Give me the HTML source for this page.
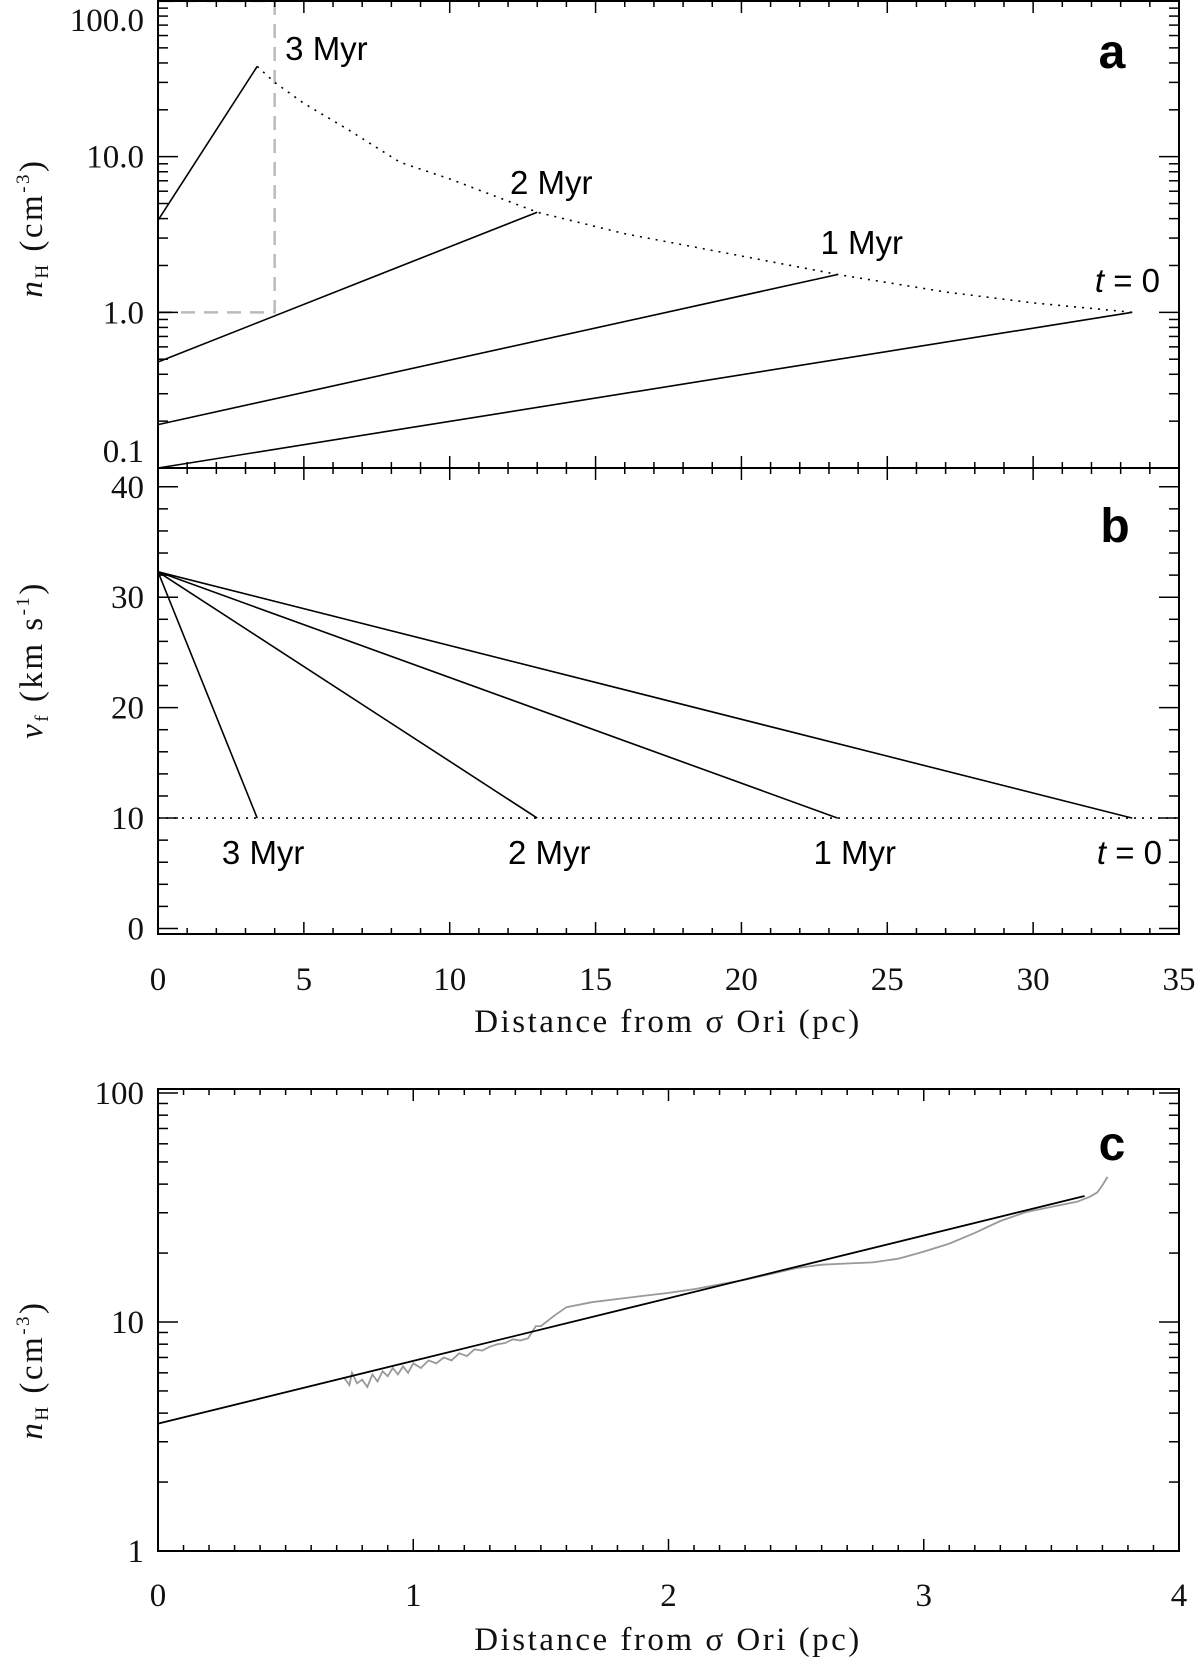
<!DOCTYPE html>
<html><head><meta charset="utf-8">
<style>
html,body{margin:0;padding:0;background:#fff;}
svg{display:block;}
.tk{font-family:"Liberation Serif",serif;font-size:33px;fill:#111;}
.ti{font-family:"Liberation Serif",serif;font-size:33px;fill:#111;letter-spacing:2.5px;}
.lb{font-family:"Liberation Sans",sans-serif;font-size:33px;fill:#000;}
.pl{font-family:"Liberation Sans",sans-serif;font-size:48px;font-weight:bold;fill:#000;}
</style></head>
<body>
<svg id="fig" width="1200" height="1670" viewBox="0 0 1200 1670" xmlns="http://www.w3.org/2000/svg"></svg>
<script>
// Panel a: density profiles (log-linear lines) at times
const aTimes = ["t = 0","1 Myr","2 Myr","3 Myr"];
const aStartN = [0.1, 0.19, 0.48, 3.9];
const aEndX = [33.4, 23.3, 13.0, 3.4];
const aEndN = [1.0, 1.75, 4.4, 38];
const envX = [3.4, 4, 5, 6.5, 8.3, 10, 13, 16, 20, 23.3, 27, 30, 33.4];
const envN = [38, 30, 22, 15, 9.2, 7.2, 4.4, 3.2, 2.3, 1.75, 1.35, 1.15, 1.0];
const aYTicks = ["0.1","1.0","10.0","100.0"];
// Panel b: front velocity
const bStartV = [32.3, 32.3, 32.3, 32.3];
const bEndX = [33.4, 23.3, 13.0, 3.4];
const bEndV = [10, 10, 10, 10];
const bYTicks = ["0","10","20","30","40"];
const abXTicks = ["0","5","10","15","20","25","30","35"];
// Panel c: observed density and fit
const cFitX = [0, 3.63];
const cFitN = [3.6, 35.5];
const cObsX = [0.73,0.75,0.76,0.78,0.80,0.82,0.84,0.86,0.88,0.90,0.92,0.94,0.96,0.98,1.0,1.03,1.06,1.09,1.12,1.15,1.18,1.21,1.24,1.27,1.30,1.33,1.36,1.39,1.42,1.45,1.48,1.50,1.55,1.60,1.70,1.80,1.90,2.0,2.1,2.2,2.3,2.4,2.5,2.6,2.7,2.8,2.9,3.0,3.1,3.2,3.3,3.4,3.5,3.6,3.65,3.68,3.70,3.72];
const cObsN = [5.7,5.3,6.0,5.4,5.6,5.2,5.9,5.5,6.1,5.8,6.3,5.9,6.4,6.0,6.6,6.3,6.8,6.6,7.0,6.8,7.3,7.1,7.6,7.5,7.8,8.0,8.1,8.4,8.3,8.5,9.6,9.6,10.6,11.6,12.2,12.6,13.0,13.4,13.9,14.6,15.3,16.2,17.2,17.8,18.0,18.2,18.9,20.3,22.0,24.5,27.6,30.2,31.8,33.5,35.2,36.8,39.5,43];
const cYTicks = ["1","10","100"];
const cXTicks = ["0","1","2","3","4"];

const NS="http://www.w3.org/2000/svg";
const svg=document.getElementById('fig');
function mk(tag,attrs,parent){const e=document.createElementNS(NS,tag);for(const k in attrs)e.setAttribute(k,attrs[k]);(parent||svg).appendChild(e);return e;}
function line(x1,y1,x2,y2,sw,parent,name){const e=mk('line',{x1,y1,x2,y2,stroke:'#000','stroke-width':sw||2},parent);

return e;}
function text(x,y,s,cls,anchor,name,parent){const e=mk('text',{x,y,'class':cls,'text-anchor':anchor||'middle'},parent);e.textContent=s;

return e;}

const L=158,R=1179;
const xa=v=>L+(v/35)*(R-L);
const aTop=1,aBot=468;
const ya=v=>aBot-(Math.log10(v)+1)/3*(aBot-aTop);
const bTop=468,bBot=934;
const yb=v=>bBot-(v+0.5)/42.2*(bBot-bTop);
const cTop=1089,cBot=1551;
const cDec=229;
const xc=v=>L+(v/4)*(R-L);
const yc=v=>cBot-Math.log10(v)*cDec;

function frame(t,b,name){const r=mk('rect',{x:L,y:t,width:R-L,height:b-t,fill:'none',stroke:'#000','stroke-width':2});

}
function xticks(t,b,fx,max,minor,major,labels,ly){
  const g=mk('g',{});
  
  
  const n=Math.round(max/minor);
  for(let i=0;i<=n;i++){const v=i*minor;const isM=Math.abs(v/major-Math.round(v/major))<1e-6;const len=isM?12:6;const x=fx(v);
    line(x,b,x,b-len,1.5,g,'x-tick');line(x,t,x,t+len,1.5,g,'x-tick');}
  if(labels)labels.forEach((s,i)=>text(fx(i*major),ly,s,'tk','middle','x-tick-label',g));
}
function logYticks(t,b,fy,dmin,dmax,labels,lx,clamp){
  const g=mk('g',{});
  
  
  for(let d=dmin;d<dmax;d++){for(let k=1;k<10;k++){const v=k*Math.pow(10,d);const y=fy(v);if(y<t-0.5)continue;const len=k==1?20:10;
    line(L,y,L+len,y,1.5,g,'y-tick');line(R,y,R-len,y,1.5,g,'y-tick');}}
  const y=fy(Math.pow(10,dmax));if(y>=t-0.5){line(L,y,L+20,y,1.5,g,'y-tick');line(R,y,R-20,y,1.5,g,'y-tick');}
  labels.forEach((s,i)=>{let yy=fy(Math.pow(10,dmin+i))+11;
    if(clamp){yy=Math.max(yy,t+30);yy=Math.min(yy,b-6);}
    text(lx,yy,s,'tk','end','y-tick-label',g);});
}
function pathFrom(xs,ys,fx,fy){return xs.map((x,i)=>(i?'L':'M')+fx(x).toFixed(1)+' '+fy(ys[i]).toFixed(1)).join(' ');}

// ---------- Panel a ----------
const ga=mk('g',{});
const box=mk('path',{d:`M${xa(0)} ${ya(1)} L${xa(4)} ${ya(1)} L${xa(4)} ${ya(100)} L${xa(0)} ${ya(100)}`,fill:'none',stroke:'#bbb','stroke-width':2.5,'stroke-dasharray':'14 9'},ga);

aTimes.forEach((t,i)=>{const p=mk('path',{d:pathFrom([0,aEndX[i]],[aStartN[i],aEndN[i]],xa,ya),stroke:'#000','stroke-width':1.6,fill:'none'},ga);
  });
const env=mk('path',{d:pathFrom(envX,envN,xa,ya),stroke:'#000','stroke-width':1.6,fill:'none','stroke-dasharray':'2 6'},ga);

frame(aTop,aBot,'panel-a-frame');
xticks(aTop,aBot,xa,35,1,5,null,0);
logYticks(aTop,aBot,ya,-1,2,aYTicks,144,true);
text(xa(aEndX[3])+28,60,'3 Myr','lb','start','label-3myr',ga);
text(xa(aEndX[2])+14,194,'2 Myr','lb','middle','label-2myr',ga);
text(xa(aEndX[1])+24,254,'1 Myr','lb','middle','label-1myr',ga);
const t0=text(1160,292,'','lb','end','label-t0',ga);t0.innerHTML='<tspan font-style="italic">t</tspan> = 0';
text(1112,68,'a','pl','middle','panel-a-letter',ga);
const yta=text(0,0,'','ti','middle','y-axis-title-a',ga);yta.setAttribute('transform','translate(42,228) rotate(-90)');
yta.innerHTML='<tspan font-style="italic">n</tspan><tspan font-size="19" dy="6">H</tspan><tspan dy="-6"> (cm</tspan><tspan font-size="19" dy="-13">-3</tspan><tspan dy="13">)</tspan>';

// ---------- Panel b ----------
const gb=mk('g',{});
const dot=mk('line',{x1:xa(0),y1:yb(10),x2:xa(35),y2:yb(10),stroke:'#000','stroke-width':1.6,'stroke-dasharray':'2 6'},gb);

bEndX.forEach((x,i)=>{const p=mk('path',{d:pathFrom([0,x],[bStartV[i],bEndV[i]],xa,yb),stroke:'#000','stroke-width':1.6,fill:'none'},gb);
  });
frame(bTop,bBot,'panel-b-frame');
xticks(bTop,bBot,xa,35,1,5,abXTicks,990);
(function(){const g=mk('g',{});
  for(let v=0;v<=41;v+=2){const y=yb(v);const len=v%10==0?20:10;line(L,y,L+len,y,1.5,g,'y-tick');line(R,y,R-len,y,1.5,g,'y-tick');}
  bYTicks.forEach((s,i)=>text(144,yb(i*10)+11,s,'tk','end','y-tick-label',g));})();
text(xa(bEndX[3])+6,864,'3 Myr','lb','middle','label-3myr-b',gb);
text(xa(bEndX[2])+12,864,'2 Myr','lb','middle','label-2myr-b',gb);
text(xa(bEndX[1])+17,864,'1 Myr','lb','middle','label-1myr-b',gb);
const t0b=text(1162,864,'','lb','end','label-t0-b',gb);t0b.innerHTML='<tspan font-style="italic">t</tspan> = 0';
text(1115,542,'b','pl','middle','panel-b-letter',gb);
const ytb=text(0,0,'','ti','middle','y-axis-title-b',gb);ytb.setAttribute('transform','translate(42,660) rotate(-90)');
ytb.innerHTML='<tspan font-style="italic">v</tspan><tspan font-size="19" dy="6">f</tspan><tspan dy="-6"> (km s</tspan><tspan font-size="19" dy="-13">-1</tspan><tspan dy="13">)</tspan>';
text(668,1032,'Distance from σ Ori (pc)','ti','middle','x-axis-title-ab',gb);

// ---------- Panel c ----------
const gc=mk('g',{});
const obs=mk('path',{d:pathFrom(cObsX,cObsN,xc,yc),stroke:'#999','stroke-width':1.8,fill:'none'},gc);

const fit=mk('path',{d:pathFrom(cFitX,cFitN,xc,yc),stroke:'#000','stroke-width':1.8,fill:'none'},gc);

frame(cTop,cBot,'panel-c-frame');
xticks(cTop,cBot,xc,4,0.1,1,cXTicks,1606);
logYticks(cTop,cBot,yc,0,2,cYTicks,144,false);
text(1112,1160,'c','pl','middle','panel-c-letter',gc);
const ytc=text(0,0,'','ti','middle','y-axis-title-c',gc);ytc.setAttribute('transform','translate(42,1370) rotate(-90)');
ytc.innerHTML='<tspan font-style="italic">n</tspan><tspan font-size="19" dy="6">H</tspan><tspan dy="-6"> (cm</tspan><tspan font-size="19" dy="-13">-3</tspan><tspan dy="13">)</tspan>';
text(668,1650,'Distance from σ Ori (pc)','ti','middle','x-axis-title-c',gc);
</script>
</body></html>
